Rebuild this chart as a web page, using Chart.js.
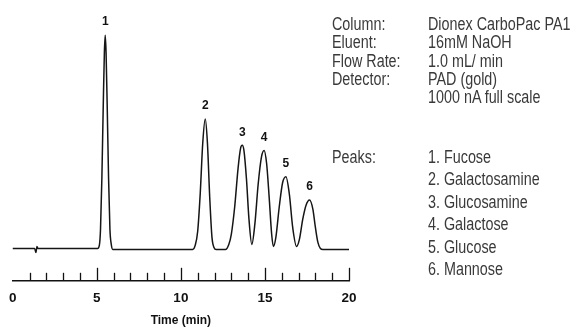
<!DOCTYPE html>
<html>
<head>
<meta charset="utf-8">
<script src="https://cdn.jsdelivr.net/npm/chart.js@4.4.1/dist/chart.umd.min.js"></script>
<style>
  html, body { margin:0; padding:0; background:#fff; }
  #wrap { position:relative; width:572px; height:327px; overflow:hidden; }
  #chromChart { position:absolute; left:0; top:0; }
  .info { position:absolute; font-family:'Liberation Sans',Arial,sans-serif; font-size:17.5px; color:#3a3a3a;
          white-space:nowrap; transform:scaleX(0.82); transform-origin:left top; }
</style>
</head>
<body>
<div id="wrap">
  <canvas id="chromChart" width="572" height="327"></canvas>
  <div id="condKeys" class="info" style="left:332px; top:15px; line-height:18.3px;"></div>
  <div id="condVals" class="info" style="left:428px; top:15px; line-height:18.3px;"></div>
  <div id="peakKey" class="info" style="left:332px; top:146px; line-height:22.4px;">Peaks:</div>
  <div id="peakList" class="info" style="left:428px; top:146px; line-height:22.4px;"></div>
</div>
<script>
// === Datos ===
const times  = [0, 1.3, 1.38, 1.44, 1.5, 1.6, 2.0, 5.05, 5.15, 5.22, 5.30, 5.38, 5.45, 5.50, 5.55, 5.62, 5.70, 5.78, 5.86, 5.95,
                10.70, 10.85, 11.00, 11.15, 11.30, 11.45, 11.58, 11.72, 11.85, 11.97, 12.10,
                12.65, 12.85, 13.0, 13.2, 13.4, 13.55, 13.65, 13.75, 13.9, 14.05, 14.22,
                14.4, 14.6, 14.8, 14.95, 15.1, 15.25, 15.4, 15.5,
                15.65, 15.85, 16.05, 16.25, 16.45, 16.65, 16.88,
                17.05, 17.25, 17.45, 17.65, 17.85, 18.0, 18.15, 18.3, 18.45, 20.0];
const signal = [1, 1, -3, 3, 1, 1, 1, 1, 4, 20, 70, 140, 195, 212, 195, 140, 70, 20, 5, 0,
                0, 4, 18, 55, 105, 129, 105, 50, 12, 2, 0,
                0, 5, 15, 42, 80, 100, 103, 98, 70, 30, 5,
                25, 65, 92, 98, 85, 52, 15, 3,
                12, 42, 66, 72, 55, 22, 3,
                10, 30, 44, 49, 40, 22, 7, 1, 0, 0];

const peakNums  = ['1','2','3','4','5','6'];
const peakTimes = [5.5, 11.45, 13.65, 14.95, 16.25, 17.65];
const peakNames = ['Fucose','Galactosamine','Glucosamine','Galactose','Glucose','Mannose'];
const majorTicks = [0, 5, 10, 15, 20];

const condKeys = ['Column:','Eluent:','Flow Rate:','Detector:',''];
const condVals = ['Dionex CarboPac PA1','16mM NaOH','1.0 mL/ min','PAD (gold)','1000 nA full scale'];

// === Textos laterales ===
document.getElementById('condKeys').innerHTML = condKeys.map(s => s || '&nbsp;').join('<br>');
document.getElementById('condVals').innerHTML = condVals.join('<br>');
document.getElementById('peakList').innerHTML = peakNames.map((n, i) => peakNums[i] + '. ' + n).join('<br>');

// === Marcas del eje y números de pico ===
const chromDecor = {
  id: 'chromDecor',
  afterDraw(chart) {
    const { ctx, chartArea, scales: { x, y } } = chart;
    ctx.save();
    ctx.strokeStyle = '#111';
    ctx.lineWidth = 1.3;
    x.ticks.forEach(t => {
      if (t.value === 0) return;
      const px = Math.round(x.getPixelForValue(t.value)) + 0.5;
      const len = majorTicks.includes(t.value) ? 13 : 8;
      ctx.beginPath();
      ctx.moveTo(px, chartArea.bottom);
      ctx.lineTo(px, chartArea.bottom - len);
      ctx.stroke();
    });
    ctx.fillStyle = '#111';
    ctx.font = 'bold 12px "Liberation Sans", Arial, sans-serif';
    ctx.textAlign = 'center';
    ctx.textBaseline = 'middle';
    peakTimes.forEach((pt, i) => {
      let top = 0;
      times.forEach((t, j) => { if (Math.abs(t - pt) < 0.2) top = Math.max(top, signal[j]); });
      ctx.fillText(peakNums[i], x.getPixelForValue(pt), y.getPixelForValue(top) - 13);
    });
    ctx.restore();
  }
};

// === Cromatograma ===
const ctxChrom = document.getElementById('chromChart');
new Chart(ctxChrom, {
  type: 'line',
  data: {
    datasets: [{
      data: times.map((t, i) => ({ x: t, y: signal[i] })),
      borderColor: '#151515', borderWidth: 1.5, pointRadius: 0,
      cubicInterpolationMode: 'monotone', fill: false, clip: false
    }]
  },
  options: {
    responsive: false, animation: false,
    layout: { padding: { left: 12, right: 223, top: 20, bottom: 0 } },
    plugins: { legend: { display: false }, tooltip: { enabled: false } },
    scales: {
      x: {
        type: 'linear', min: 0, max: 20,
        grid: { display: true, drawOnChartArea: false, drawTicks: false },
        border: { display: true, color: '#111', width: 1.6 },
        ticks: {
          stepSize: 1, autoSkip: false, maxRotation: 0, padding: 9, color: '#111',
          font: { family: 'Liberation Sans', weight: 'bold', size: 13.5 },
          callback: v => majorTicks.includes(v) ? String(v) : ''
        },
        title: {
          display: true, text: 'Time (min)', color: '#111',
          font: { family: 'Liberation Sans', weight: 'bold', size: 12, lineHeight: 1 },
          padding: { top: 0, bottom: 0 }
        }
      },
      y: { display: false, min: -31, max: 227 }
    }
  },
  plugins: [chromDecor]
});
</script>
</body>
</html>
